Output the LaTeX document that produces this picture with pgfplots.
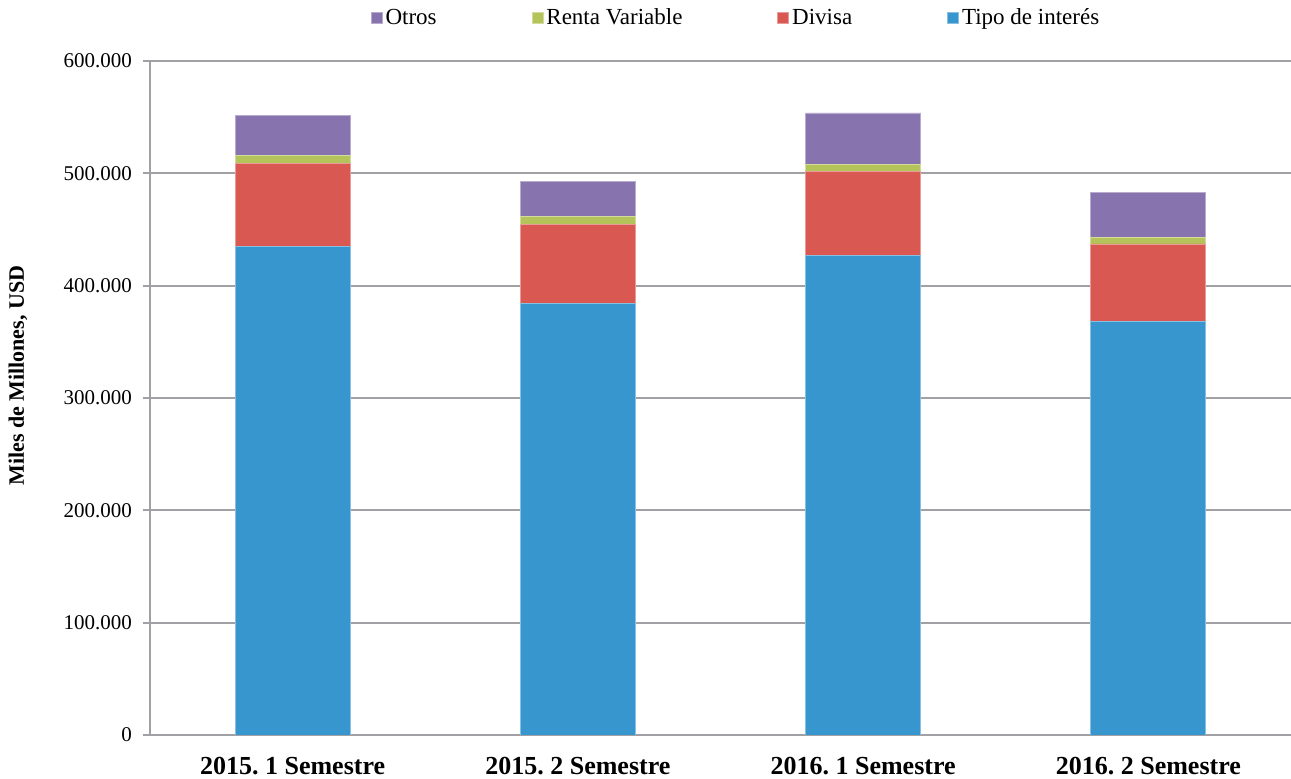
\documentclass[border=0pt]{standalone}
\usepackage{fontspec}
\setmainfont{Liberation Serif}
\usepackage{pgfplots}
\pgfplotsset{compat=1.18}

\definecolor{cTipo}{RGB}{55,150,205}
\definecolor{cDiv}{RGB}{217,89,82}
\definecolor{cRV}{RGB}{181,196,90}
\definecolor{cOtr}{RGB}{135,115,174}
\definecolor{axgray}{RGB}{160,160,165}

\begin{document}
\frenchspacing
\begin{tikzpicture}
\begin{axis}[
  scale only axis,
  width=570.5pt, height=337pt,
  ybar stacked, bar width=57.5pt,
  xmin=-0.5, xmax=3.5,
  ymin=0, ymax=600000,
  axis lines=left,
  axis line style={axgray, line width=1pt, -},
  ytick={0,100000,...,600000},
  scaled y ticks=false,
  /pgf/number format/assume math mode=true,
  yticklabel={\pgfmathprintnumber[fixed,precision=0,1000 sep={.}]{\tick}},
  yticklabel style={font=\fontsize{10.5}{12}\selectfont, xshift=-2pt},
  ymajorgrids, grid style={axgray, line width=1pt},
  tick style={axgray, line width=1pt},
  tick align=outside, major tick length=3.5pt,
  xtick={0,1,2,3},
  xticklabels={2015. 1 Semestre, 2015. 2 Semestre, 2016. 1 Semestre, 2016. 2 Semestre},
  x tick style={draw=none},
  xticklabel style={font=\fontsize{13}{15}\bfseries, yshift=-4pt},
  extra x ticks={-0.5,0.5,1.5,2.5},
  extra x tick labels={},
  extra x tick style={grid=none, major tick length=5pt, tick style={axgray, line width=1pt}},
  ylabel={Miles de Millones, USD},
  ylabel style={font=\fontsize{11}{13}\bfseries, at={(axis description cs:-0.1157,0.533)}, rotate=0, anchor=center},
  reverse legend,
  legend columns=4,
  legend image code/.code={\fill[#1] (0pt,-2.75pt) rectangle (5.5pt,2.75pt);},
  legend style={draw=none, font=\fontsize{11.5}{13}\selectfont,
    at={(axis description cs:0.514,1.0638)}, anchor=center,
    inner sep=0pt,
    /tikz/every even column/.append style={column sep=46pt},
    nodes={inner sep=1.5pt}},
]
\addplot[fill=cTipo, draw=cTipo!60!white, line width=0.4pt] coordinates {(0,434700) (1,384300) (2,427000) (3,368300)};
\addplot[fill=cDiv, draw=cDiv!60!white, line width=0.4pt] coordinates {(0,73900) (1,70000) (2,74500) (3,68800)};
\addplot[fill=cRV, draw=cRV!60!white, line width=0.4pt] coordinates {(0,7700) (1,7700) (2,6500) (3,6200)};
\addplot[fill=cOtr, draw=cOtr!60!white, line width=0.4pt] coordinates {(0,35600) (1,30900) (2,45700) (3,39800)};
\legend{Tipo de interés, Divisa, Renta Variable, Otros}
\end{axis}
\pgfresetboundingbox
\path (current axis.south west) ++(-75pt,-22pt) rectangle ++(645.5pt,389.5pt);
\end{tikzpicture}
\end{document}
